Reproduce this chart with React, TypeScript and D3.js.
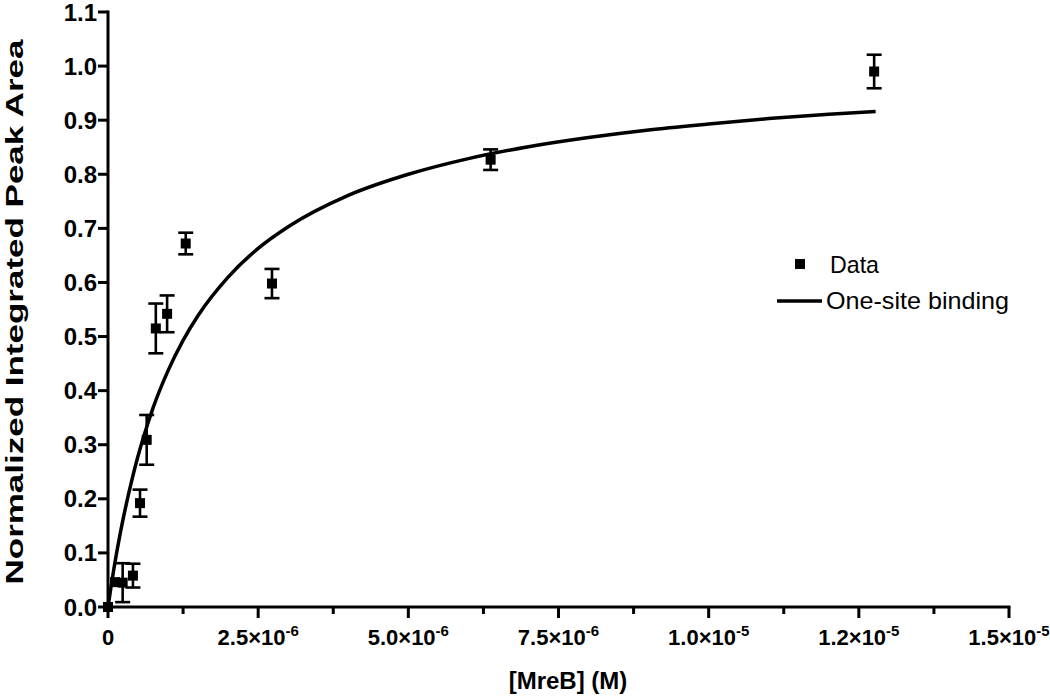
import React from "react";
import * as d3 from "d3";

// Data points: [MreB] (M), normalized integrated peak area, error (SEM)
const concentrations = [0, 1.16e-7, 2.44e-7, 4.15e-7, 5.33e-7, 6.44e-7, 7.96e-7, 9.84e-7, 1.294e-6, 2.73e-6, 6.37e-6, 1.2755e-5];
const peakAreas = [0, 0.046, 0.045, 0.058, 0.192, 0.309, 0.515, 0.542, 0.672, 0.598, 0.827, 0.99];
const errors = [0, 0, 0.036, 0.022, 0.025, 0.046, 0.046, 0.034, 0.02, 0.027, 0.019, 0.031];

// One-site binding fit curve
const fitX = [0, 5e-8, 1e-7, 2e-7, 3e-7, 4e-7, 5e-7, 6e-7, 7.5e-7, 1e-6, 1.25e-6, 1.5e-6, 2e-6, 2.5e-6, 3e-6, 4e-6, 5e-6, 6e-6, 7e-6, 8e-6, 9e-6, 1e-5, 1.1e-5, 1.2e-5, 1.278e-5];
const fitY = [0, 0.037, 0.072, 0.134, 0.188, 0.236, 0.279, 0.317, 0.368, 0.437, 0.493, 0.539, 0.61, 0.663, 0.703, 0.761, 0.8, 0.829, 0.851, 0.868, 0.882, 0.893, 0.903, 0.911, 0.916];

const yTicks = [0, 0.1, 0.2, 0.3, 0.4, 0.5, 0.6, 0.7, 0.8, 0.9, 1.0, 1.1];
const xMajorTicks = [0, 2.5e-6, 5e-6, 7.5e-6, 1e-5, 1.25e-5, 1.5e-5];
const xMajorMantissa = ["0", "2.5", "5.0", "7.5", "1.0", "1.2", "1.5"];
const xMajorExponent = ["", "-6", "-6", "-6", "-5", "-5", "-5"];
const xMinorTicks = [1.25e-6, 3.75e-6, 6.25e-6, 8.75e-6, 1.125e-5, 1.375e-5];

const xTitle = "[MreB] (M)";
const yTitle = "Normalized Integrated Peak Area";
const legendLabels = ["Data", "One-site binding"];

export default function App() {
  const x = d3.scaleLinear().domain([0, 1.5e-5]).range([108, 1009]);
  const y = d3.scaleLinear().domain([0, 1.1]).range([607, 12]);
  const font = "Liberation Sans, Arial, Helvetica, sans-serif";

  const line = d3
    .line<number>()
    .x((_, i) => x(fitX[i]))
    .y((d) => y(d))
    .curve(d3.curveMonotoneX);

  const x0 = x(0);
  const y0 = y(0);
  const cap = 7.5;
  const sq = 10;

  return (
    <svg
      width={1050}
      height={698}
      style={{ position: "absolute", left: 0, top: 0, background: "#fff" }}
      fontFamily={font}
    >
      <rect x={0} y={0} width={1050} height={698} fill="#fff" />
      {/* fit curve */}
      <path d={line(fitY) || ""} fill="none" stroke="#000" strokeWidth={3.5} strokeLinecap="butt" />

      {/* error bars and squares */}
      {concentrations.map((c, i) => {
        const cx = x(c);
        const cy = y(peakAreas[i]);
        const e = errors[i];
        return (
          <g key={i}>
            {e > 0 && (
              <g stroke="#000" strokeWidth={2.6}>
                <line x1={cx} x2={cx} y1={y(peakAreas[i] + e)} y2={y(peakAreas[i] - e)} />
                <line x1={cx - cap} x2={cx + cap} y1={y(peakAreas[i] + e)} y2={y(peakAreas[i] + e)} />
                <line x1={cx - cap} x2={cx + cap} y1={y(peakAreas[i] - e)} y2={y(peakAreas[i] - e)} />
              </g>
            )}
            <rect x={cx - sq / 2} y={cy - sq / 2} width={sq} height={sq} fill="#000" />
          </g>
        );
      })}

      {/* axes */}
      <g stroke="#000" strokeWidth={3}>
        <line x1={x0} x2={x0} y1={y(1.1) - 1.5} y2={y0 + 1.5} />
        <line x1={x0 - 1.5} x2={x(1.5e-5) + 1.5} y1={y0} y2={y0} />
        {yTicks.map((t, i) => (
          <line key={"yt" + i} x1={x0 - 10} x2={x0} y1={y(t)} y2={y(t)} />
        ))}
        {xMajorTicks.map((t, i) => (
          <line key={"xt" + i} x1={x(t)} x2={x(t)} y1={y0} y2={y0 + 11} />
        ))}
        {xMinorTicks.map((t, i) => (
          <line key={"xm" + i} x1={x(t)} x2={x(t)} y1={y0} y2={y0 + 7} />
        ))}
      </g>

      {/* y tick labels */}
      {yTicks.map((t, i) => (
        <text
          key={"yl" + i}
          x={x0 - 11}
          y={y(t) + 8.5}
          textAnchor="end"
          fontSize={24}
          fontWeight="bold"
        >
          {d3.format(".1f")(t)}
        </text>
      ))}

      {/* x tick labels */}
      {xMajorTicks.map((t, i) => (
        <text
          key={"xl" + i}
          x={x(t)}
          y={645}
          textAnchor="middle"
          fontSize={22}
          fontWeight="bold"
        >
          {xMajorMantissa[i]}
          {xMajorExponent[i] && (
            <>
              {"×10"}
              <tspan fontSize={15} dy={-9}>
                {xMajorExponent[i]}
              </tspan>
            </>
          )}
        </text>
      ))}

      {/* axis titles */}
      <text x={568} y={689} textAnchor="middle" fontSize={24} fontWeight="bold">
        {xTitle}
      </text>
      <text
        transform="translate(23,312) rotate(-90)"
        textAnchor="middle"
        fontSize={24}
        fontWeight="bold"
        textLength={545}
        lengthAdjust="spacingAndGlyphs"
      >
        {yTitle}
      </text>

      {/* legend */}
      <rect x={795} y={259} width={10} height={10} fill="#000" />
      <text x={830} y={273} fontSize={24} textLength={49} lengthAdjust="spacingAndGlyphs">
        {legendLabels[0]}
      </text>
      <line x1={777} x2={822} y1={301} y2={301} stroke="#000" strokeWidth={3.5} />
      <text x={826} y={309} fontSize={24} textLength={183} lengthAdjust="spacingAndGlyphs">
        {legendLabels[1]}
      </text>
    </svg>
  );
}
